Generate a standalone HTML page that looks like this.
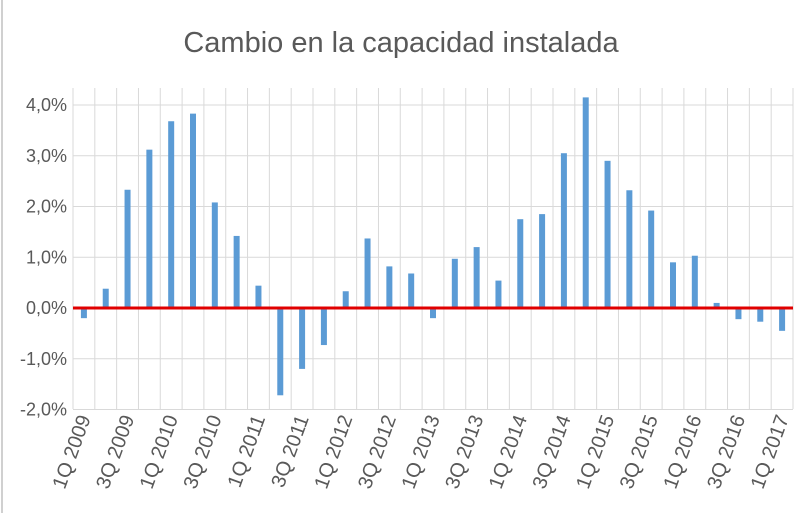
<!DOCTYPE html>
<html><head><meta charset="utf-8"><style>
body{margin:0;background:#fff;}
svg{display:block;font-family:"Liberation Sans",sans-serif;}
</style></head><body>
<svg id="chart" width="806" height="513">
<rect x="0" y="0" width="806" height="513" fill="#fff"/>
<line x1="2" y1="0" x2="2" y2="513" stroke="#d0d0d0" stroke-width="2"/>
<text x="401" y="52" text-anchor="middle" font-size="29" fill="#595959">Cambio en la capacidad instalada</text>
<g id="grid"></g><g id="bars"></g><g id="axes"></g>
</svg>
<script>
const categories=["1Q 2009","2Q 2009","3Q 2009","4Q 2009","1Q 2010","2Q 2010","3Q 2010","4Q 2010","1Q 2011","2Q 2011","3Q 2011","4Q 2011","1Q 2012","2Q 2012","3Q 2012","4Q 2012","1Q 2013","2Q 2013","3Q 2013","4Q 2013","1Q 2014","2Q 2014","3Q 2014","4Q 2014","1Q 2015","2Q 2015","3Q 2015","4Q 2015","1Q 2016","2Q 2016","3Q 2016","4Q 2016","1Q 2017"];
const values=[-0.2,0.38,2.33,3.12,3.68,3.83,2.08,1.42,0.44,-1.72,-1.2,-0.73,0.33,1.37,0.82,0.68,-0.2,0.97,1.2,0.54,1.75,1.85,3.05,4.15,2.9,2.32,1.92,0.9,1.03,0.1,-0.22,-0.27,-0.45];
const yTicks=[-2,-1,0,1,2,3,4];
const NS="http://www.w3.org/2000/svg";
const plotLeft=73,plotRight=793,plotTop=88,plotBottom=409;
const step=(plotRight-plotLeft)/categories.length;
function xPos(i){return plotLeft+step*(i+0.5);}
function yPos(v){return 308-v*50.75;}
function mk(tag,attrs,parent){const e=document.createElementNS(NS,tag);for(const k in attrs)e.setAttribute(k,attrs[k]);parent.appendChild(e);return e;}
const grid=document.getElementById('grid'),bars=document.getElementById('bars'),axes=document.getElementById('axes');
yTicks.forEach(t=>{
  const l=mk('line',{x1:plotLeft,x2:plotRight,y1:yPos(t),y2:yPos(t),stroke:'#d9d9d9','stroke-width':1},grid);
  
  
  const tx=mk('text',{x:67,y:yPos(t)+6,'text-anchor':'end','font-size':18,fill:'#595959'},axes);
  tx.textContent=(t<0?'-':'')+Math.abs(t).toFixed(1).replace('.',',')+'%';
  
  
});
for(let i=0;i<=categories.length;i++){
  const gx=plotLeft+step*i;
  const l=mk('line',{x1:gx,x2:gx,y1:plotTop,y2:plotBottom,stroke:'#d9d9d9','stroke-width':1},grid);
  
  
}
values.forEach((v,i)=>{
  const y0=yPos(0),y1=yPos(v);
  const r=mk('rect',{x:xPos(i)-3,y:Math.min(y0,y1),width:6,height:Math.abs(y1-y0),fill:'#5b9bd5'},bars);
  
  
});
const zl=mk('line',{x1:plotLeft,x2:plotRight,y1:yPos(0),y2:yPos(0),stroke:'#e00000','stroke-width':3},axes);


categories.forEach((c,i)=>{
  if(i%2)return;
  const tx=mk('text',{x:0,y:0,'text-anchor':'end','font-size':20,fill:'#595959',transform:`translate(${xPos(i)+7},${plotBottom+9}) rotate(-70)`},axes);
  tx.textContent=c;
  
  
});
</script>
</body></html>
